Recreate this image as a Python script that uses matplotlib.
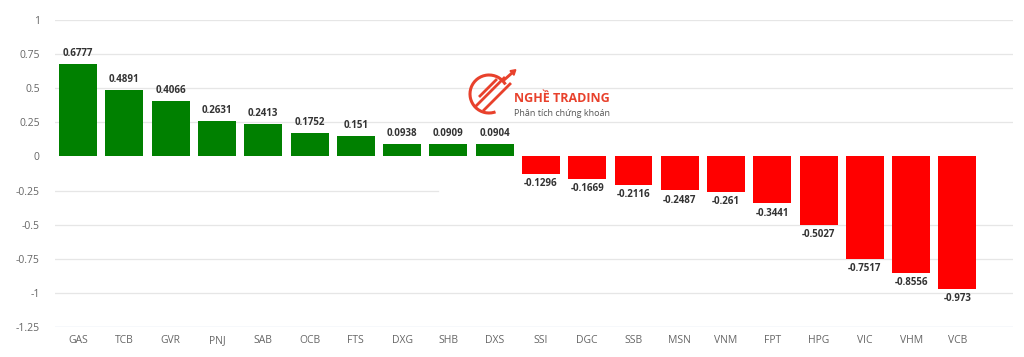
import matplotlib
matplotlib.use("Agg")
import matplotlib.pyplot as plt
from matplotlib.patches import Arc, FancyArrow

plt.rcParams['font.family'] = ['Open Sans', 'DejaVu Sans']

tickers = ["GAS", "TCB", "GVR", "PNJ", "SAB", "OCB", "FTS", "DXG", "SHB", "DXS",
           "SSI", "DGC", "SSB", "MSN", "VNM", "FPT", "HPG", "VIC", "VHM", "VCB"]
values = [0.6777, 0.4891, 0.4066, 0.2631, 0.2413, 0.1752, 0.151, 0.0938, 0.0909, 0.0904,
          -0.1296, -0.1669, -0.2116, -0.2487, -0.261, -0.3441, -0.5027, -0.7517, -0.8556, -0.973]
labels = ["0.6777", "0.4891", "0.4066", "0.2631", "0.2413", "0.1752", "0.151", "0.0938", "0.0909", "0.0904",
          "-0.1296", "-0.1669", "-0.2116", "-0.2487", "-0.261", "-0.3441", "-0.5027", "-0.7517", "-0.8556", "-0.973"]
yticks = [1, 0.75, 0.5, 0.25, 0, -0.25, -0.5, -0.75, -1, -1.25]
ytick_labels = ["1", "0.75", "0.5", "0.25", "0", "-0.25", "-0.5", "-0.75", "-1", "-1.25"]

fig = plt.figure(figsize=(10.24, 3.57), dpi=100)
ax = fig.add_axes([55/1024, 1-327/357, (1013-55)/1024, (327-20)/357])

x = list(range(len(tickers)))
colors = ["#008000" if v >= 0 else "#ff0000" for v in values]
ax.bar(x, values, width=0.82, color=colors, zorder=3)

for xi, v, lab in zip(x, values, labels):
    if v >= 0:
        ax.annotate(lab, (xi, v), xytext=(0, 3.5), textcoords="offset points",
                    ha="center", va="bottom", fontsize=7, fontweight="bold", color="#333333", zorder=4)
    else:
        ax.annotate(lab, (xi, v), xytext=(0, -3), textcoords="offset points",
                    ha="center", va="top", fontsize=7, fontweight="bold", color="#333333", zorder=4)

ax.set_ylim(-1.25, 1)
ax.set_xlim(-0.5, 20.2)
ax.set_yticks(yticks)
ax.set_yticklabels(ytick_labels)
ax.set_xticks(x)
ax.set_xticklabels(tickers)

# gridlines (no line at 0; the -0.25 line only spans the left part)
for yv in yticks:
    if yv == 0:
        continue
    if yv == -0.25:
        ax.axhline(yv, xmin=0, xmax=0.40, color="#e6e6e6", lw=0.9, zorder=0)
    elif yv == -1.25:
        ax.axhline(yv, color="#d6deec", lw=1.0, zorder=0)
    else:
        ax.axhline(yv, color="#e6e6e6", lw=0.9, zorder=0)

for s in ax.spines.values():
    s.set_visible(False)
ax.tick_params(axis="both", length=0, labelsize=7.5, colors="#666666")
ax.tick_params(axis="y", pad=11)
ax.tick_params(axis="x", pad=6)

# watermark logo
lc = "#e8412c"
fax = fig.add_axes([0, 0, 1, 1], facecolor="none")
fax.set_xlim(0, 1024)
fax.set_ylim(357, 0)
fax.axis("off")
fax.add_patch(Arc((489, 94), 38, 38, theta1=70, theta2=330, color=lc, lw=2.2))
fax.plot([476, 504], [106, 78], color=lc, lw=2)
fax.plot([484, 510], [110, 84], color=lc, lw=2)
fax.plot([480, 496], [96, 80], color=lc, lw=2)
fax.add_patch(FancyArrow(504, 80, 8, -7, width=1.5, head_width=6, head_length=5, color=lc))
fax.text(514, 98, "NGHỀ TRADING", color=lc, fontsize=9, fontweight="bold", va="center", ha="left")
fax.text(514, 113, "Phân tích chứng khoán", color="#555555", fontsize=6.5, va="center", ha="left")

fig.savefig("out.png", dpi=100)
